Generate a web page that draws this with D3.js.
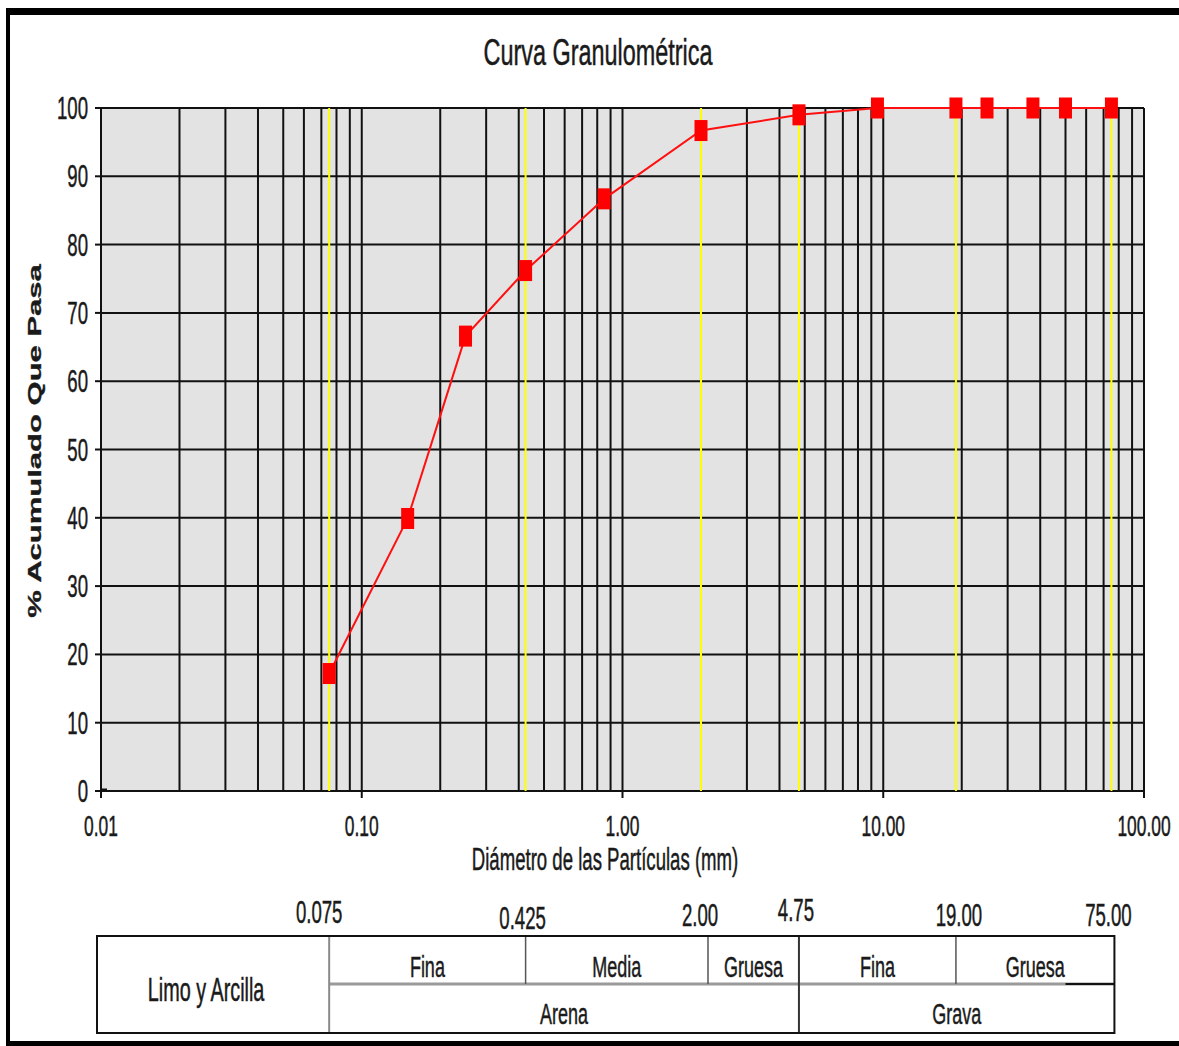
<html>
<head>
<meta charset="utf-8">
<script src="https://d3js.org/d3.v7.min.js"></script>
<style>
  body { margin: 0; background: #fff; }
  svg text { font-family: "Liberation Sans Narrow", "Arial Narrow", "Liberation Sans", sans-serif; fill: #1a1a1a; stroke: #1a1a1a; stroke-width: 0.5px; }
</style>
</head>
<body>
<div id="chart"></div>
<script>
// sieve data (mm) and cumulative % passing
var sieveSizes = [0.075, 0.15, 0.25, 0.425, 0.85, 2.00, 4.75, 9.5, 19.0, 25.0, 37.5, 50.0, 75.0];
var percentPassing = [17.2, 39.9, 66.6, 76.2, 86.7, 96.7, 99.0, 100, 100, 100, 100, 100, 100];

var xTickValues = [0.01, 0.1, 1, 10, 100];
var xTickLabels = ['0.01', '0.10', '1.00', '10.00', '100.00'];
var yTickValues = [0, 10, 20, 30, 40, 50, 60, 70, 80, 90, 100];

// classification limits (yellow lines + table)
var limits = [0.075, 0.425, 2.00, 4.75, 19.00, 75.00];
var limitLabels = ['0.075', '0.425', '2.00', '4.75', '19.00', '75.00'];
var subClassNames = ['Fina', 'Media', 'Gruesa', 'Fina', 'Gruesa'];
var mainClassNames = ['Arena', 'Grava'];
var mainClassLimits = [[0.075, 4.75], [4.75, 75.00]];

var width = 1179, height = 1046;
var plot = {left: 101, right: 1144, top: 108, bottom: 791};
var sx = 0.6;

var svg = d3.select('#chart').append('svg').attr('width', width).attr('height', height);

var x = d3.scaleLog().domain([0.01, 100]).range([plot.left, plot.right]);
var y = d3.scaleLinear().domain([0, 100]).range([plot.bottom, plot.top]);

function label(g, txt, px, py, size, anchor) {
    return g.append('text')
        .attr('transform', `translate(${px},${py}) scale(${sx},1)`)
        .attr('text-anchor', anchor || 'middle')
        .style('font-size', size + 'px')
        .text(txt);
}

// outer frame
svg.append('rect').attr('x', 6).attr('y', 8).attr('width', width - 6).attr('height', 7).attr('fill', '#000');
svg.append('rect').attr('x', 6).attr('y', 8).attr('width', 4).attr('height', height - 8).attr('fill', '#000');
svg.append('rect').attr('x', 6).attr('y', 1041).attr('width', width - 6).attr('height', 5).attr('fill', '#000');

// title
svg.append('text')
    .attr('x', 598).attr('y', 65)
    .attr('text-anchor', 'middle')
    .attr('textLength', 229).attr('lengthAdjust', 'spacingAndGlyphs')
    .style('font-size', '37px')
    .text('Curva Granulométrica');

// plot background
svg.append('rect')
    .attr('x', plot.left).attr('y', plot.top)
    .attr('width', plot.right - plot.left).attr('height', plot.bottom - plot.top)
    .attr('fill', '#e3e3e3');

// grid
var grid = svg.append('g').attr('stroke', '#111').attr('stroke-width', 2);
grid.selectAll('line.v').data(x.ticks()).enter().append('line')
    .attr('x1', d => x(d)).attr('x2', d => x(d))
    .attr('y1', plot.top).attr('y2', plot.bottom);
grid.selectAll('line.h').data(yTickValues).enter().append('line')
    .attr('x1', plot.left).attr('x2', plot.right)
    .attr('y1', d => y(d)).attr('y2', d => y(d));

// yellow limit lines
svg.append('g').selectAll('line').data(limits).enter().append('line')
    .attr('x1', d => x(d)).attr('x2', d => x(d))
    .attr('y1', plot.top).attr('y2', plot.bottom)
    .attr('stroke', '#ffff00').attr('stroke-width', 2);

// axes ticks
var axes = svg.append('g').attr('stroke', '#111').attr('stroke-width', 2);
axes.selectAll('line.yt').data(yTickValues).enter().append('line')
    .attr('x1', plot.left - 6).attr('x2', plot.left)
    .attr('y1', d => y(d)).attr('y2', d => y(d));
axes.selectAll('line.xt').data(xTickValues).enter().append('line')
    .attr('x1', d => x(d)).attr('x2', d => x(d))
    .attr('y1', plot.bottom).attr('y2', plot.bottom + 7);
axes.append('line').attr('x1', plot.left).attr('x2', plot.left + 6)
    .attr('y1', plot.bottom - 1).attr('y2', plot.bottom - 1).attr('stroke-width', 3);

// tick labels
var yl = svg.append('g');
yTickValues.forEach(v => label(yl, v, 88, y(v) + 11, 31, 'end'));
var xl = svg.append('g');
xTickValues.forEach((v, i) => label(xl, xTickLabels[i], x(v), 836, 29));

// axis titles
label(svg, 'Diámetro de las Partículas (mm)', 605, 870, 31);
svg.append('text')
    .attr('transform', 'translate(41,441) scale(0.62,1) rotate(-90)')
    .attr('text-anchor', 'middle')
    .style('font-family', '"Liberation Sans", Arial, sans-serif')
    .style('font-weight', 'bold')
    .style('font-size', '31px')
    .text('% Acumulado Que Pasa');

// curve
var pts = sieveSizes.map((d, i) => [x(d), y(percentPassing[i])]);
svg.append('path')
    .attr('d', d3.line()(pts))
    .attr('fill', 'none').attr('stroke', '#ff1010').attr('stroke-width', 2);
svg.append('g').selectAll('rect').data(pts).enter().append('rect')
    .attr('x', d => d[0] - 6.5).attr('y', d => d[1] - 10.5)
    .attr('width', 13).attr('height', 21)
    .attr('fill', '#ff0000');

// classification table
var tbl = {top: 936, mid: 984, bottom: 1033, left: x(0.01) - 4, right: x(75) + 3};
var colX = limits.map((d, i) => i == 2 ? x(d) + 7 : (i == limits.length - 1 ? tbl.right : x(d)));
var t = svg.append('g');

// limit labels above table
var limitDx = [-10, -3, -1, -3, 3, -3];
var limitDy = [923, 929, 926, 921, 926, 926];
limits.forEach((d, i) => label(t, limitLabels[i], x(d) + limitDx[i], limitDy[i], 31));

t.append('line').attr('x1', colX[0]).attr('x2', tbl.right).attr('y1', tbl.mid).attr('y2', tbl.mid)
    .attr('stroke', '#9a9a9a').attr('stroke-width', 3);
t.append('line').attr('x1', x(50)).attr('x2', tbl.right).attr('y1', tbl.mid).attr('y2', tbl.mid)
    .attr('stroke', '#111').attr('stroke-width', 2);
t.append('line').attr('x1', colX[0]).attr('x2', colX[0]).attr('y1', tbl.top).attr('y2', tbl.bottom)
    .attr('stroke', '#8a8a8a').attr('stroke-width', 2);
[1, 2, 4].forEach(i => t.append('line')
    .attr('x1', colX[i]).attr('x2', colX[i]).attr('y1', tbl.top).attr('y2', tbl.mid)
    .attr('stroke', '#555').attr('stroke-width', 1.5));
t.append('line').attr('x1', colX[3]).attr('x2', colX[3]).attr('y1', tbl.top).attr('y2', tbl.bottom)
    .attr('stroke', '#333').attr('stroke-width', 2);
t.append('rect').attr('x', tbl.left).attr('y', tbl.top)
    .attr('width', tbl.right - tbl.left).attr('height', tbl.bottom - tbl.top)
    .attr('fill', 'none').attr('stroke', '#111').attr('stroke-width', 2);

subClassNames.forEach((n, i) => label(t, n, (colX[i] + colX[i + 1]) / 2, 977, 30));
mainClassNames.forEach((n, i) => {
    var a = mainClassLimits[i];
    var x0 = a[0] == 4.75 ? colX[3] : x(a[0]);
    var x1 = a[1] == 75 ? tbl.right : colX[3];
    label(t, n, (x0 + x1) / 2, 1024, 30);
});
label(t, 'Limo y Arcilla', (tbl.left + colX[0]) / 2 - 7, 1001, 33);
</script>
</body>
</html>
